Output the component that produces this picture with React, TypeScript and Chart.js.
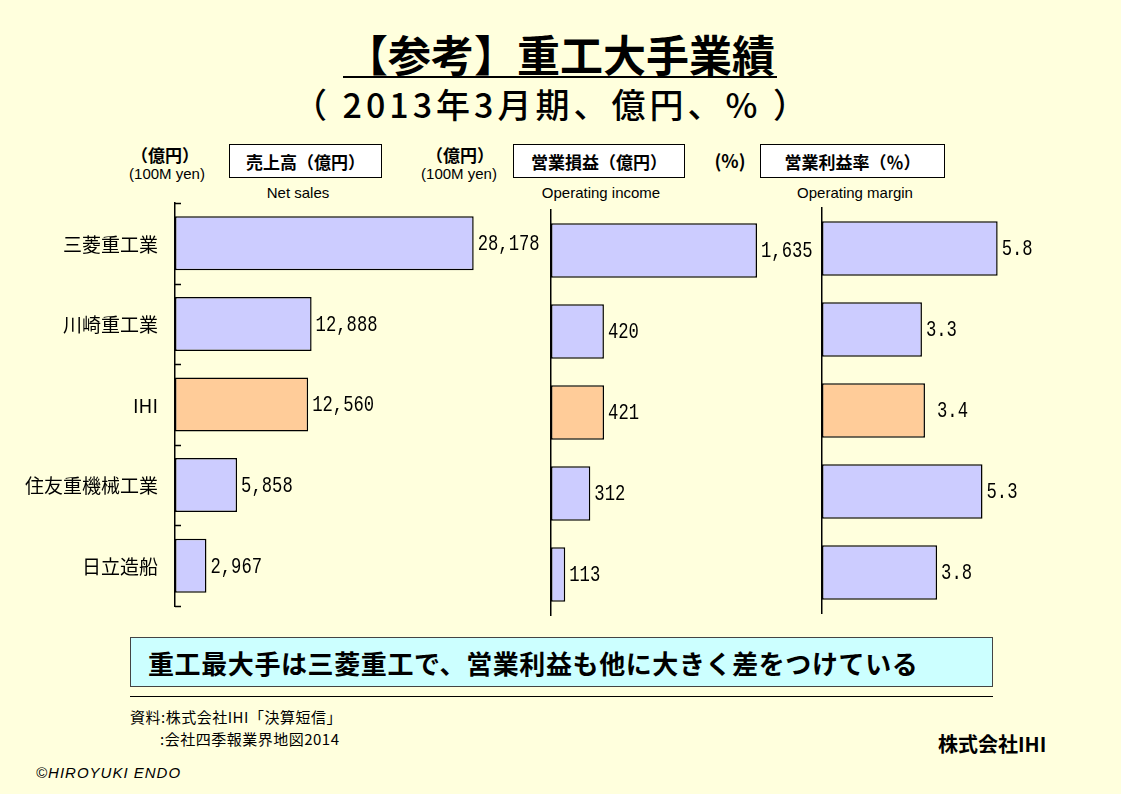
import React, { useEffect, useRef } from "react";
import { Chart, registerables } from "chart.js";
Chart.register(...registerables);

const companies = ["三菱重工業", "川崎重工業", "IHI", "住友重機械工業", "日立造船"];
const netSales = [28178, 12888, 12560, 5858, 2967];
const operatingIncome = [1635, 420, 421, 312, 113];
const operatingMargin = [5.8, 3.3, 3.4, 5.3, 3.8];
const highlightCompany = "IHI";

const BLUE = "#CCCCFF";
const ORANGE = "#FFCC99";
const BG = "#FFFFDD";
const JP = "'Noto Sans CJK JP', sans-serif";

type Panel = {
  left: number;
  top: number;
  width: number;
  height: number;
  axisX: number;
  plotTop: number;
  plotBottom: number;
  max: number;
  padRight: number;
  values: number[];
  fmt: (v: number) => string;
  labelGap: number[];
  showLabels: boolean;
  showTicks: boolean;
};

const fmtInt = (v: number) => v.toLocaleString("en-US");
const fmtPct = (v: number) => v.toFixed(1);

const panels: Panel[] = [
  { left: 0, top: 190, width: 552, height: 430, axisX: 175, plotTop: 203, plotBottom: 606, max: 35000, padRight: 6, values: netSales, fmt: fmtInt, labelGap: [4, 4, 4, 4, 4], showLabels: true, showTicks: true },
  { left: 545, top: 190, width: 280, height: 430, axisX: 551, plotTop: 210, plotBottom: 615, max: 2000, padRight: 22, values: operatingIncome, fmt: fmtInt, labelGap: [4, 4, 4, 4, 4], showLabels: false, showTicks: false },
  { left: 815, top: 190, width: 235, height: 430, axisX: 822, plotTop: 208, plotBottom: 613, max: 7, padRight: 16, values: operatingMargin, fmt: fmtPct, labelGap: [4, 4, 12, 4, 4], showLabels: false, showTicks: false },
];

function BarPanel({ p }: { p: Panel }) {
  const ref = useRef<HTMLCanvasElement | null>(null);
  useEffect(() => {
    if (!ref.current) return;
    const overlay = {
      id: "overlay",
      afterDraw(chart: any) {
        const ctx = chart.ctx;
        const ys = chart.scales.y;
        const meta = chart.getDatasetMeta(0);
        ctx.save();
        // value labels
        ctx.fillStyle = "#000";
        ctx.font = "21px 'Liberation Mono', monospace";
        ctx.textBaseline = "middle";
        ctx.textAlign = "left";
        meta.data.forEach((bar: any, i: number) => {
          ctx.save();
          ctx.translate(bar.x + p.labelGap[i], bar.y + 1);
          ctx.scale(0.82, 1.05);
          ctx.fillText(p.fmt(p.values[i]), 0, 0);
          ctx.restore();
        });
        // category labels
        if (p.showLabels) {
          ctx.font = "19px 'Noto Sans CJK JP'";
          ctx.textAlign = "right";
          companies.forEach((c, i) => {
            const y = ys.getPixelForValue(i);
            ctx.fillText(c, ys.right - 17, y + 1);
          });
        }
        // inward tick marks at category boundaries
        if (p.showTicks) {
          const n = companies.length;
          ctx.strokeStyle = "#000";
          ctx.lineWidth = 1.5;
          for (let i = 0; i <= n; i++) {
            const y = Math.round(ys.top + (i * (ys.bottom - ys.top)) / n) + 0.5;
            ctx.beginPath();
            ctx.moveTo(ys.right, y);
            ctx.lineTo(ys.right + 6, y);
            ctx.stroke();
          }
        }
        ctx.restore();
      },
    };
    const chart = new Chart(ref.current, {
      type: "bar",
      data: {
        labels: companies,
        datasets: [
          {
            data: p.values,
            backgroundColor: companies.map((c) => (c === highlightCompany ? ORANGE : BLUE)),
            borderColor: "#000",
            borderWidth: 1.5,
            borderSkipped: false,
            categoryPercentage: 1,
            barPercentage: 0.67,
          },
        ],
      },
      options: {
        indexAxis: "y",
        animation: false,
        responsive: false,
        devicePixelRatio: 1,
        layout: {
          padding: {
            top: p.plotTop - p.top,
            bottom: p.top + p.height - p.plotBottom,
            left: 0,
            right: p.padRight,
          },
        },
        plugins: {
          legend: { display: false },
          tooltip: { enabled: false },
          title: { display: false },
        },
        scales: {
          x: { display: false, min: 0, max: p.max },
          y: {
            display: true,
            grid: { display: false, drawTicks: false },
            border: { display: true, color: "#000", width: 1.5 },
            ticks: { display: false },
            afterFit: (s: any) => {
              s.width = p.axisX - p.left;
            },
          },
        },
      },
      plugins: [overlay],
    } as any);
    return () => chart.destroy();
  }, [p]);
  return (
    <canvas
      ref={ref}
      width={p.width}
      height={p.height}
      style={{ position: "absolute", left: p.left, top: p.top, width: p.width, height: p.height }}
    />
  );
}

function T({ x, y, children, style, center }: { x: number; y: number; children: any; style?: any; center?: boolean }) {
  return (
    <div
      style={{
        position: "absolute",
        left: x,
        top: y,
        whiteSpace: "nowrap",
        lineHeight: 1,
        transform: center ? "translateX(-50%)" : undefined,
        ...style,
      }}
    >
      {children}
    </div>
  );
}

const boxStyle = (x: number, w: number): any => ({
  position: "absolute",
  left: x,
  top: 144,
  width: w,
  height: 34,
  boxSizing: "border-box",
  background: "#FFFFFF",
  border: "1px solid #000",
  display: "flex",
  alignItems: "center",
  justifyContent: "center",
  fontFamily: JP,
  fontWeight: 700,
  fontSize: 17,
});

export default function App() {
  return (
    <div
      style={{
        position: "fixed",
        left: 0,
        top: 0,
        width: 1121,
        height: 794,
        background: BG,
        overflow: "hidden",
        fontFamily: JP,
        color: "#000",
      }}
    >
      <T x={560} y={32} center style={{ fontSize: 43, fontWeight: 700 }}>【参考】重工大手業績</T>
      <div style={{ position: "absolute", left: 343, top: 76, width: 434, height: 2, background: "#000" }} />
      <T x={552} y={87} center style={{ fontSize: 34, fontWeight: 500, letterSpacing: 4 }}>（ 2013年3月期、億円、% ）</T>

      <T x={165} y={146} center style={{ fontSize: 17, fontWeight: 700 }}>（億円）</T>
      <T x={167} y={166} center style={{ fontSize: 15, fontFamily: "'Liberation Sans'" }}>(100M yen)</T>
      <div style={boxStyle(229, 153)}>売上高（億円）</div>
      <T x={298} y={185} center style={{ fontSize: 15, fontFamily: "'Liberation Sans'" }}>Net sales</T>

      <T x={460} y={146} center style={{ fontSize: 17, fontWeight: 700 }}>（億円）</T>
      <T x={459} y={166} center style={{ fontSize: 15, fontFamily: "'Liberation Sans'" }}>(100M yen)</T>
      <div style={boxStyle(513, 172)}>営業損益（億円）</div>
      <T x={601} y={185} center style={{ fontSize: 15, fontFamily: "'Liberation Sans'" }}>Operating income</T>

      <T x={730} y={151} center style={{ fontSize: 18, fontWeight: 700 }}>(%)</T>
      <div style={boxStyle(760, 185)}>営業利益率（％）</div>
      <T x={855} y={185} center style={{ fontSize: 15, fontFamily: "'Liberation Sans'" }}>Operating margin</T>

      {panels.map((p, i) => (
        <BarPanel key={i} p={p} />
      ))}

      <div
        style={{
          position: "absolute",
          left: 130,
          top: 637,
          width: 863,
          height: 50,
          boxSizing: "border-box",
          background: "#CCFFFF",
          border: "1px solid #444",
          display: "flex",
          alignItems: "center",
          paddingLeft: 17,
          fontSize: 26,
          letterSpacing: 0.6,
          fontWeight: 700,
          fontFamily: JP,
        }}
      >
        重工最大手は三菱重工で、営業利益も他に大きく差をつけている
      </div>
      <div style={{ position: "absolute", left: 130, top: 696, width: 863, height: 1, background: "#000" }} />
      <T x={130} y={709} style={{ fontSize: 15, letterSpacing: 0.5 }}>資料:株式会社IHI「決算短信」</T>
      <T x={160} y={731} style={{ fontSize: 15, letterSpacing: 0.5 }}>:会社四季報業界地図2014</T>
      <T x={938} y={734} style={{ fontSize: 20, fontWeight: 700 }}>株式会社IHI</T>
      <T x={36} y={765} style={{ fontSize: 15, fontStyle: "italic", fontFamily: "'Liberation Sans'", letterSpacing: 1 }}>©HIROYUKI ENDO</T>
    </div>
  );
}
